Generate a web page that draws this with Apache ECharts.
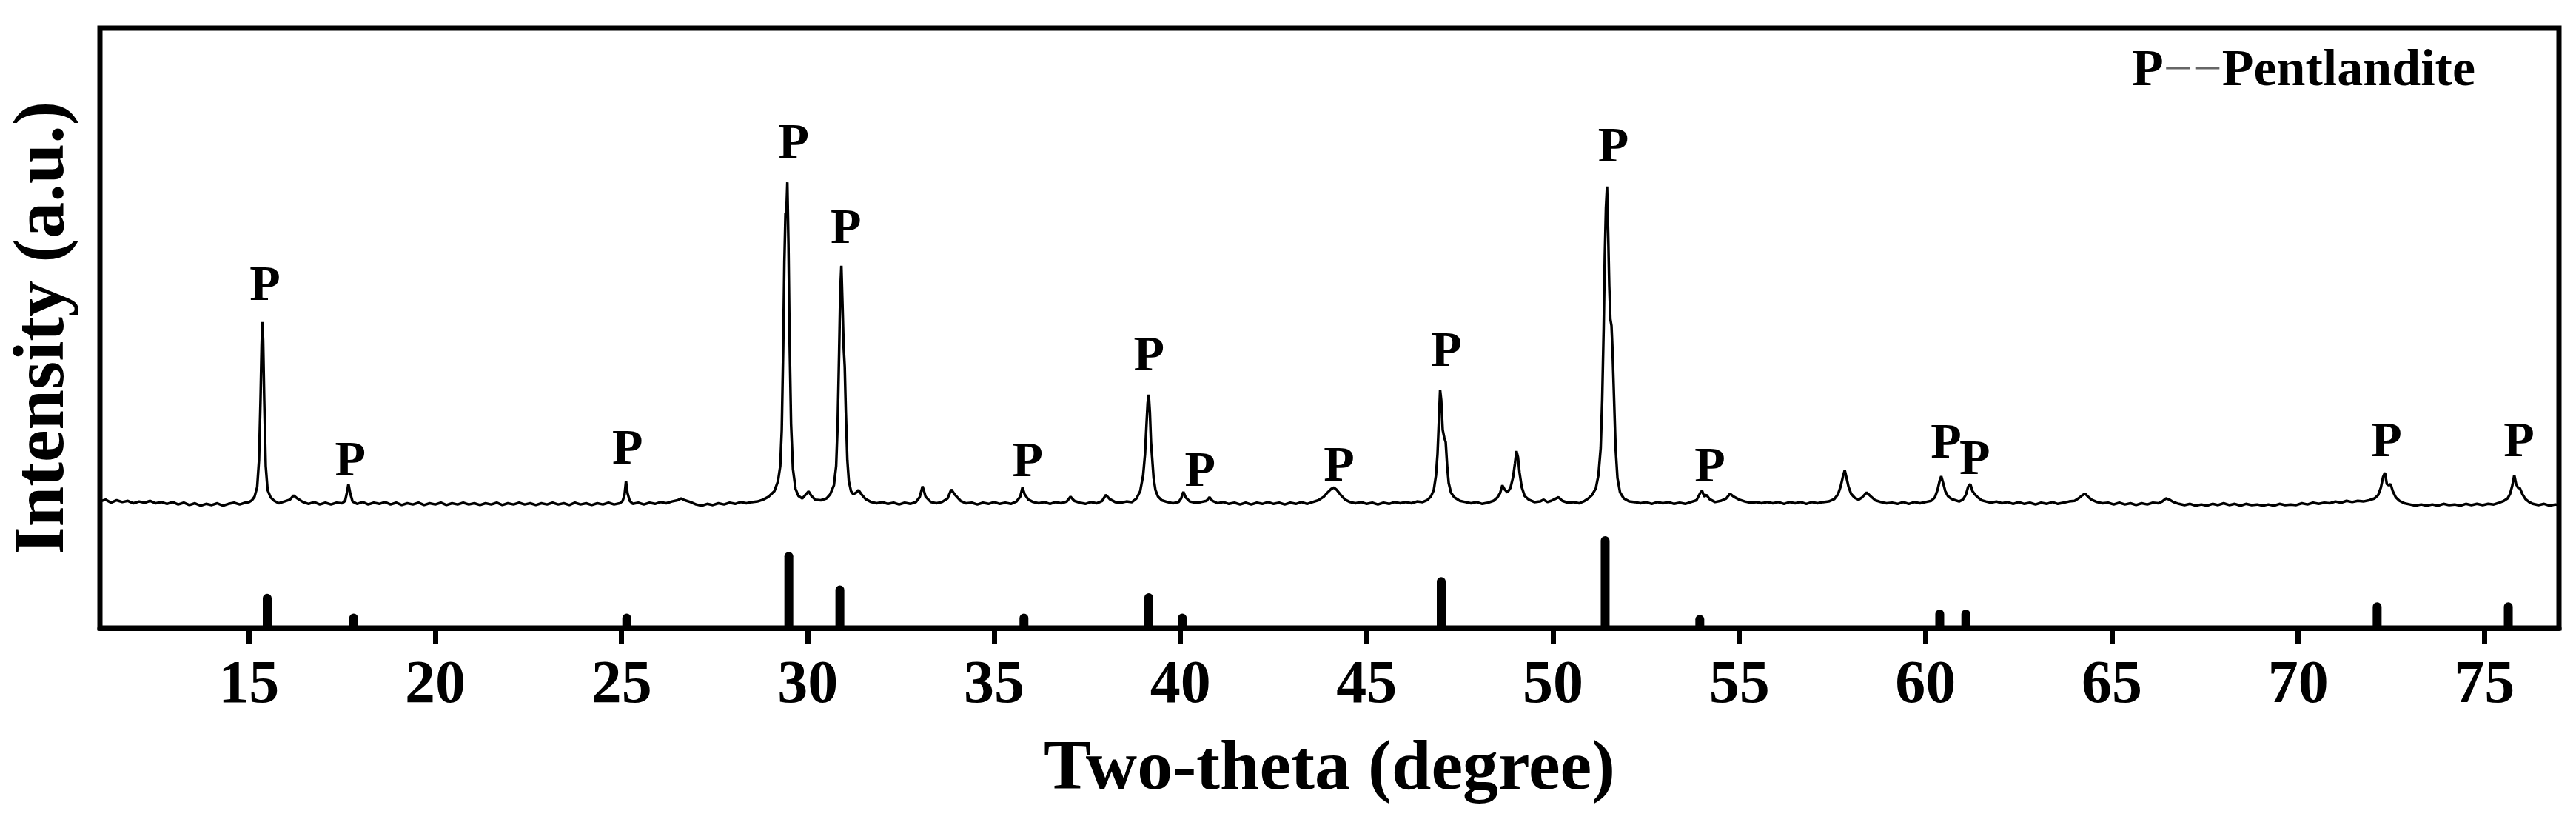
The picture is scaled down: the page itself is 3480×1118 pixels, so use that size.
<!DOCTYPE html>
<html>
<head>
<meta charset="utf-8">
<script src="https://cdn.jsdelivr.net/npm/echarts@6/dist/echarts.min.js"></script>
<style>
  html, body { margin: 0; padding: 0; background: #ffffff; }
  #chart { width: 3480px; height: 1118px; }
</style>
</head>
<body>
<div id="chart"></div>
<script>
// ---- Data ----
// X-ray diffraction scan: [two-theta (degree), intensity (a.u.)]
const scanA = [
  [11.0,21.1],[11.15,21.4],[11.3,20.9],[11.45,21.3],[11.6,21.0],[11.75,21.2],[11.9,20.8],[12.05,21.1],
  [12.2,20.9],[12.35,21.2],[12.5,20.8],[12.65,21.0],[12.8,20.7],[12.95,21.0],[13.1,20.6],[13.25,20.9],
  [13.4,20.5],[13.55,20.8],[13.7,20.4],[13.85,20.7],[14.0,20.5],[14.15,20.8],[14.3,20.4],[14.45,20.7],
  [14.6,20.9],[14.75,20.6],[14.9,20.9],[15.0,21.0],[15.08,21.3],[15.15,21.9],[15.22,23.5],[15.27,28.0],
  [15.31,38.0],[15.34,47.0],[15.36,51.0],[15.38,48.0],[15.41,38.0],[15.45,27.0],[15.5,23.0],[15.58,21.8],
  [15.68,21.2],[15.8,20.8],[15.95,21.1],[16.1,21.4],[16.2,22.1],[16.3,21.6],[16.45,21.0],[16.6,20.7],
  [16.75,21.0],[16.9,20.6],[17.05,20.9],[17.2,20.6],[17.35,20.9],[17.5,20.8],[17.58,21.2],[17.63,22.6],
  [17.67,24.0],[17.72,22.4],[17.78,21.1],[17.9,20.7],[18.05,21.0],[18.2,20.6],[18.35,20.9],[18.5,20.7],
  [18.65,21.0],[18.8,20.6],[18.95,20.9],[19.1,20.5],[19.25,20.8],[19.4,20.6],[19.55,20.9],[19.7,20.5],
  [19.85,20.8],[20.0,20.6],[20.15,20.9],[20.3,20.5],[20.45,20.8],[20.6,20.6],[20.75,20.9],[20.9,20.6],
  [21.05,20.8],[21.2,20.5],[21.35,20.8],[21.5,20.6],[21.65,20.9],[21.8,20.5],[21.95,20.8],[22.1,20.6],
  [22.25,20.9],[22.4,20.6],[22.55,20.8],[22.7,20.5],[22.85,20.8],[23.0,20.6],[23.15,20.9],[23.3,20.6],
  [23.45,20.8],[23.6,20.5],[23.75,20.9],[23.9,20.6],[24.05,20.8],[24.2,20.5],[24.35,20.8],[24.5,20.6],
  [24.65,20.9],[24.8,20.6],[24.95,20.8]
];
const scanB = [
  [25.03,21.2],[25.08,22.2],[25.12,24.5],[25.16,22.5],[25.22,21.2],[25.3,20.7],[25.45,20.9],[25.6,20.6],
  [25.75,20.9],[25.9,20.7],[26.05,21.0],[26.2,20.8],[26.35,21.1],[26.5,21.3],[26.6,21.6],[26.7,21.3],
  [26.85,21.0],[27.0,20.6],[27.15,20.4],[27.3,20.7],[27.45,20.5],[27.6,20.8],[27.75,20.6],[27.9,20.9],
  [28.05,20.7],[28.2,21.0],[28.35,20.8],[28.5,21.0],[28.65,21.1],[28.8,21.4],[28.95,21.9],[29.1,22.8],
  [29.2,24.5],[29.26,27.0],[29.3,33.0],[29.34,47.0],[29.37,61.0],[29.4,69.2],[29.42,68.5],[29.45,74.3],
  [29.48,64.0],[29.51,48.0],[29.55,34.0],[29.6,26.5],[29.67,23.2],[29.75,22.0],[29.85,21.6],[29.95,22.3],
  [30.02,22.8],[30.1,22.0],[30.2,21.4],[30.35,21.3],[30.5,21.6],[30.6,22.3],[30.7,23.8],[30.76,27.0],
  [30.8,34.0],[30.84,46.0],[30.87,56.0],[30.9,60.4],[30.93,54.0],[30.96,47.0],[30.99,43.6],[31.02,36.0],
  [31.06,28.0],[31.1,24.5],[31.16,22.8],[31.22,22.3],[31.3,22.6],[31.36,23.0],[31.45,22.2],[31.55,21.5],
  [31.7,21.0],[31.85,20.8],[32.0,21.0],[32.15,20.7],[32.3,20.9],[32.45,20.6],[32.6,20.9],[32.75,20.7],
  [32.9,21.0],[33.0,21.8],[33.08,23.6],[33.16,21.9],[33.3,21.0],[33.45,20.8],[33.6,21.0],[33.75,21.6],
  [33.85,23.1],[33.95,22.2],[34.1,21.2],[34.25,20.8],[34.4,20.9],[34.55,20.6],[34.7,20.9],[34.85,20.7],
  [35.0,21.0],[35.15,20.7],[35.3,20.9],[35.45,20.7],[35.6,21.1],[35.7,21.9],[35.76,23.4],[35.82,22.3],
  [35.92,21.4],[36.05,21.0],[36.2,20.8],[36.35,21.0],[36.5,20.7],[36.65,21.0],[36.8,20.8],[36.95,21.1],
  [37.05,21.9],[37.15,21.2],[37.3,20.9],[37.45,20.7],[37.6,21.0],[37.75,20.8],[37.9,21.2],[38.0,22.2],
  [38.1,21.5],[38.25,21.0],[38.4,20.9],[38.55,21.1],[38.7,21.0],[38.82,21.6],[38.92,22.8],[39.0,25.5],
  [39.05,29.0],[39.09,34.0],[39.12,37.5],[39.15,38.9],[39.18,36.0],[39.21,31.0],[39.24,28.5],[39.28,25.0],
  [39.33,23.0],[39.4,21.9],[39.5,21.3],[39.65,21.0],[39.8,20.8],[39.95,21.0]
];
const scanC = [
  [40.02,21.6],[40.08,22.7],[40.14,21.8],[40.25,21.1],[40.4,20.9],[40.55,21.0],[40.7,21.2],[40.78,21.8],
  [40.86,21.2],[41.0,20.8],[41.15,21.0],[41.3,20.7],[41.45,20.9],[41.6,20.6],[41.75,20.9],[41.9,20.6],
  [42.05,20.9],[42.2,20.7],[42.35,21.0],[42.5,20.7],[42.65,20.9],[42.8,20.6],[42.95,20.9],[43.1,20.7],
  [43.25,21.0],[43.4,20.7],[43.55,21.0],[43.7,21.3],[43.85,21.9],[43.95,22.6],[44.05,23.2],[44.12,23.4],
  [44.2,23.0],[44.3,22.2],[44.42,21.4],[44.55,21.0],[44.7,20.8],[44.85,21.0],[45.0,20.7],[45.15,20.9],
  [45.3,20.6],[45.45,20.9],[45.6,20.7],[45.75,21.0],[45.9,20.8],[46.05,21.0],[46.2,20.8],[46.35,21.1],
  [46.5,21.0],[46.62,21.3],[46.72,21.9],[46.8,23.0],[46.86,25.5],[46.9,29.0],[46.94,35.0],[46.97,39.7],
  [47.0,38.0],[47.04,33.0],[47.08,31.8],[47.12,31.0],[47.16,27.0],[47.2,24.2],[47.26,22.6],[47.35,21.8],
  [47.5,21.2],[47.65,21.0],[47.8,20.8],[47.95,21.0],[48.1,20.7],[48.25,20.9],[48.4,21.2],[48.5,21.7],
  [48.58,22.5],[48.64,23.8],[48.7,23.1],[48.78,22.6],[48.86,23.4],[48.93,25.2],[48.98,27.5],[49.02,29.5],
  [49.06,28.5],[49.1,26.0],[49.16,23.5],[49.24,22.0],[49.35,21.4],[49.5,21.0],[49.65,21.1],[49.75,21.4],
  [49.85,21.0],[49.95,21.2],[50.05,21.5],[50.15,21.8],[50.25,21.2],[50.4,20.9],[50.55,21.0],[50.7,20.8],
  [50.85,21.2],[50.95,21.6],[51.05,22.2],[51.15,23.3],[51.22,25.5],[51.28,30.0],[51.32,38.0],[51.36,50.0],
  [51.39,62.0],[51.42,70.0],[51.45,73.6],[51.48,66.0],[51.51,57.0],[51.54,51.5],[51.57,50.4],[51.6,46.0],
  [51.64,38.0],[51.68,30.0],[51.73,25.0],[51.8,22.6],[51.9,21.6],[52.05,21.1],[52.2,21.0],[52.35,20.8],
  [52.5,21.0],[52.65,20.7],[52.8,21.0],[52.95,20.8],[53.1,21.0],[53.25,20.7],[53.4,20.9],[53.55,20.7],
  [53.7,21.0],[53.85,21.3],[53.95,22.5],[54.0,22.9],[54.06,21.9],[54.12,22.2],[54.2,21.5],[54.35,21.0],
  [54.5,21.2],[54.65,21.6],[54.75,22.4],[54.85,21.9],[55.0,21.4]
];
const scanD = [
  [55.15,21.1],[55.3,20.9],[55.45,21.0],[55.6,20.8],[55.75,21.0],[55.9,20.8],[56.05,21.0],[56.2,20.7],
  [56.35,21.0],[56.5,20.8],[56.65,21.0],[56.8,20.7],[56.95,21.0],[57.1,20.8],[57.25,21.0],[57.4,21.1],
  [57.55,21.5],[57.65,22.3],[57.72,23.6],[57.78,25.2],[57.83,26.3],[57.88,25.0],[57.93,23.6],[58.0,22.4],
  [58.1,21.7],[58.2,21.4],[58.3,21.8],[58.42,22.6],[58.52,22.0],[58.65,21.3],[58.8,21.0],[58.95,20.8],
  [59.1,20.9],[59.25,20.7],[59.4,21.0],[59.55,20.7],[59.7,21.0],[59.85,20.8],[60.0,21.0],[60.15,21.2],
  [60.25,21.8],[60.32,23.0],[60.38,24.6],[60.42,25.3],[60.47,24.2],[60.53,22.8],[60.6,22.0],[60.7,21.5],
  [60.8,21.3],[60.9,21.1],[61.0,21.4],[61.08,22.2],[61.14,23.5],[61.2,24.0],[61.26,22.8],[61.32,22.3],
  [61.4,21.8],[61.5,21.3],[61.62,21.1],[61.75,20.9],[61.9,21.1],[62.05,20.8],[62.2,21.0],[62.35,20.7],
  [62.5,21.0],[62.65,20.7],[62.8,20.9],[62.95,20.6],[63.1,20.9],[63.25,20.7],[63.4,21.0],[63.55,20.7],
  [63.7,20.9],[63.85,21.1],[64.0,21.2],[64.1,21.6],[64.2,22.1],[64.28,22.4],[64.36,21.9],[64.45,21.4],
  [64.6,21.0],[64.75,20.8],[64.9,20.9],[65.05,20.6],[65.2,20.9],[65.35,20.6],[65.5,20.8],[65.65,20.5],
  [65.8,20.8],[65.95,20.6],[66.1,20.9],[66.25,20.8],[66.35,21.1],[66.45,21.6],[66.55,21.4],[66.65,21.0],
  [66.8,20.7],[66.95,20.5],[67.1,20.7],[67.25,20.4],[67.4,20.6],[67.55,20.4],[67.7,20.7],[67.85,20.5],
  [68.0,20.8],[68.15,20.5],[68.3,20.7],[68.45,20.4],[68.6,20.7],[68.75,20.5],[68.9,20.6],[69.05,20.4],
  [69.2,20.6],[69.35,20.4],[69.5,20.7],[69.65,20.5],[69.8,20.6],[69.95,20.5],[70.1,20.8],[70.25,20.6],
  [70.4,20.9],[70.55,20.7],[70.7,20.9],[70.85,20.8],[71.0,21.1],[71.15,20.9],[71.3,21.2],[71.45,21.0],
  [71.6,21.2],[71.75,21.1],[71.9,21.3],[72.05,21.6],[72.15,22.2],[72.22,23.4],[72.28,25.2],[72.33,25.9],
  [72.38,24.0],[72.43,23.8],[72.48,24.0],[72.54,22.8],[72.62,21.8],[72.72,21.2],[72.85,20.8],[73.0,20.6],
  [73.15,20.4],[73.3,20.6],[73.45,20.4],[73.6,20.6],[73.75,20.4],[73.9,20.7],[74.05,20.5],[74.2,20.6],
  [74.35,20.4],[74.5,20.7],[74.65,20.5],[74.8,20.7],[74.95,20.5],[75.1,20.7],[75.25,20.6],[75.4,20.9],
  [75.52,21.2],[75.62,21.6],[75.69,22.4],[75.75,23.8],[75.8,25.5],[75.85,24.0],[75.9,23.4],[75.95,23.3],
  [76.02,22.3],[76.1,21.5],[76.2,21.0],[76.3,20.7],[76.45,20.5],[76.6,20.7],[76.75,20.4],[76.9,20.6],
  [77.0,20.5]
];

// Reference pattern sticks (Pentlandite): positions and relative heights
const refTheta     = [15.49, 17.81, 25.14, 29.49, 30.86, 35.80, 39.15, 40.05, 47.00, 51.40, 53.94, 60.38, 61.08, 72.12, 75.64];
const refIntensity = [5.7,   2.4,   2.4,   12.7,  7.1,   2.4,   5.8,   2.4,   8.5,   15.3,  2.2,   3.1,   3.1,   4.3,   4.3];

// Peak markers "P"
const markTheta = [15.43, 17.72, 25.16, 29.62, 31.02, 35.90, 39.16, 40.53, 44.26, 47.14, 51.62, 54.21, 60.55, 61.32, 72.37, 75.93];
const markLevel = [56.9,  27.6,  29.6,  80.6,  66.4,  27.5,  45.1,  25.9,  26.7,  45.9,  80.0,  26.6,  30.6,  27.8,  30.8,  30.8];

// Axis tick labels
const xTicks = [15, 20, 25, 30, 35, 40, 45, 50, 55, 60, 65, 70, 75];

// ---- Chart ----
const FONT = '"Liberation Serif", "Times New Roman", serif';
const scan = scanA.concat(scanB, scanC, scanD);
const sticks = refTheta.map((t, i) => [t, refIntensity[i]]);
const marks = markTheta.map((t, i) => [t, markLevel[i]]);

const chart = echarts.init(document.getElementById('chart'), null, { renderer: 'canvas' });
chart.setOption({
  animation: false,
  backgroundColor: '#ffffff',
  title: {
    text: '{p|P}{d|−−}{p|Pentlandite}',
    right: 136,
    top: 62,
    padding: 0,
    textStyle: {
      rich: {
        p: { fontFamily: FONT, fontWeight: 'bold', fontSize: 70, color: '#000' },
        d: { fontFamily: FONT, fontWeight: 'normal', fontSize: 70, color: '#666' }
      }
    }
  },
  grid: {
    left: 135, right: 23, top: 38, bottom: 270,
    show: true, borderColor: '#000', borderWidth: 7, backgroundColor: 'transparent'
  },
  xAxis: {
    type: 'value',
    min: 11, max: 77,
    name: 'Two-theta (degree)',
    nameLocation: 'middle',
    nameGap: 144,
    nameTextStyle: { fontFamily: FONT, fontWeight: 'bold', fontSize: 96, color: '#000' },
    axisLine: { show: true, lineStyle: { color: '#000', width: 7 } },
    axisTick: { show: true, inside: false, length: 22, lineStyle: { color: '#000', width: 7 }, customValues: xTicks },
    axisLabel: { show: true, customValues: xTicks, margin: 38, fontFamily: FONT, fontWeight: 'bold', fontSize: 82, color: '#000' },
    splitLine: { show: false }
  },
  yAxis: {
    type: 'value',
    min: 0, max: 100,
    name: 'Intensity (a.u.)',
    nameLocation: 'middle',
    nameRotate: 90,
    nameGap: 26,
    nameTextStyle: { fontFamily: FONT, fontWeight: 'bold', fontSize: 98, color: '#000' },
    axisLine: { show: false },
    axisTick: { show: false },
    axisLabel: { show: false },
    splitLine: { show: false }
  },
  series: [
    {
      type: 'line',
      data: scan,
      showSymbol: false,
      symbol: 'none',
      lineStyle: { color: '#000', width: 3.5 },
      clip: true,
      z: 3
    },
    {
      type: 'bar',
      data: sticks,
      barWidth: 12,
      itemStyle: { color: '#000', borderRadius: [6, 6, 0, 0] },
      z: 2
    },
    {
      type: 'scatter',
      data: marks,
      symbol: 'circle',
      symbolSize: 0,
      itemStyle: { color: '#000' },
      label: {
        show: true, position: 'inside', formatter: 'P',
        fontFamily: FONT, fontWeight: 'bold', fontSize: 68, color: '#000',
        textBorderWidth: 0, opacity: 1
      },
      z: 4
    }
  ]
});
</script>
</body>
</html>
